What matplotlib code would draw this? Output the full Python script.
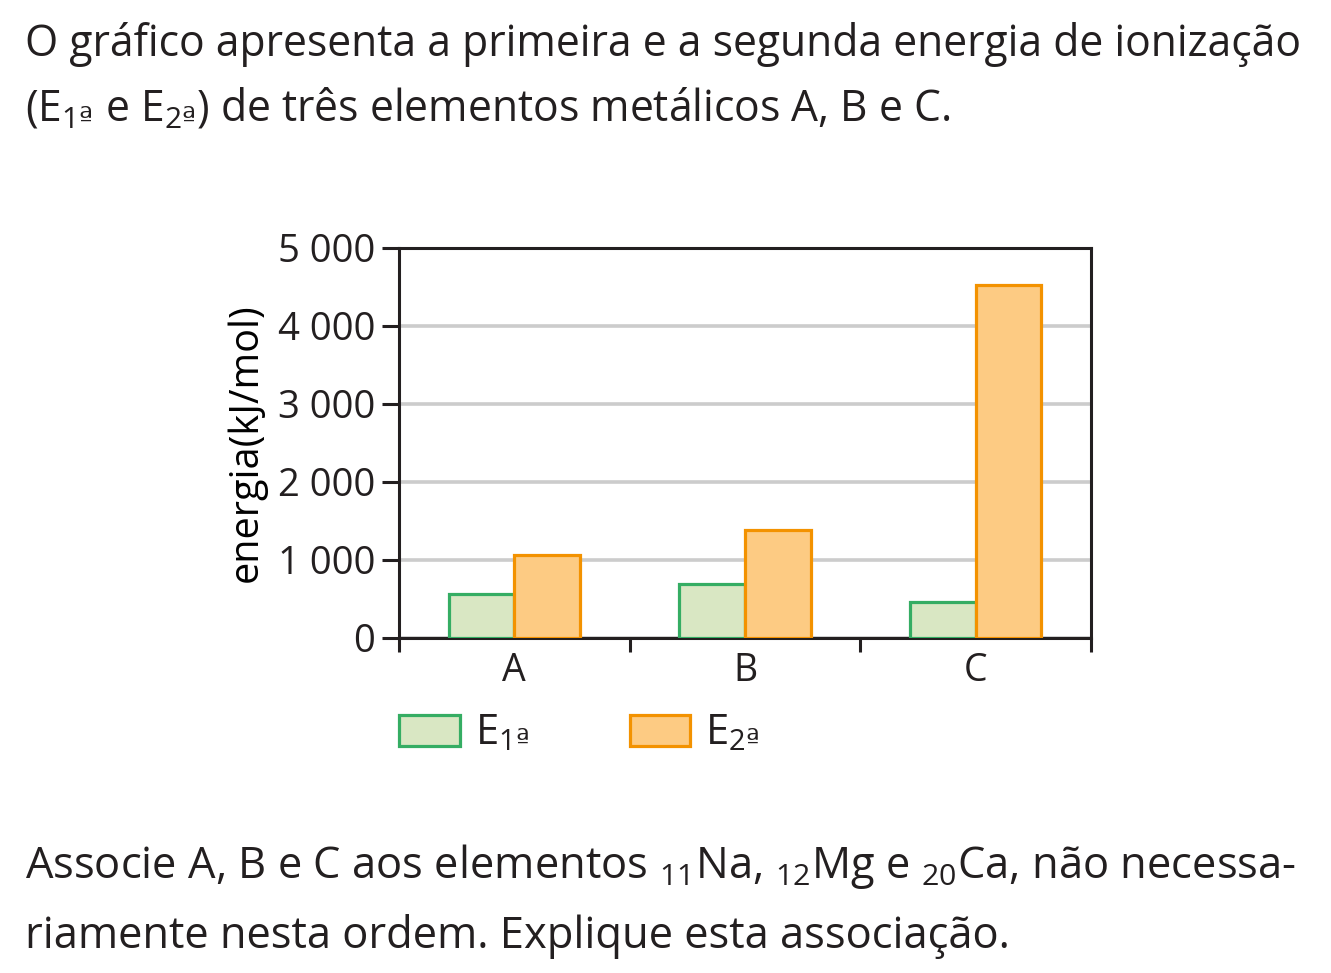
import matplotlib
matplotlib.use('Agg')
import matplotlib.pyplot as plt
import numpy as np
from matplotlib.ticker import FuncFormatter, FixedLocator

# Energias de ionização (kJ/mol)
elementos = ['A', 'B', 'C']
e1 = [560, 690, 460]
e2 = [1060, 1380, 4520]
y_ticks = [0, 1000, 2000, 3000, 4000, 5000]

texto_cor = '#231f20'
verde_borda, verde_fundo = '#35ad63', '#d9e7c3'
laranja_borda, laranja_fundo = '#f39200', '#fdcb83'

plt.rcParams['font.family'] = ['Open Sans', 'DejaVu Sans']
plt.rcParams['mathtext.fontset'] = 'custom'
plt.rcParams['mathtext.rm'] = 'Open Sans'
plt.rcParams['mathtext.it'] = 'Open Sans'
plt.rcParams['mathtext.sf'] = 'DejaVu Sans'  # ª sublinhado
plt.rcParams['text.color'] = texto_cor

fig = plt.figure(figsize=(13.31, 9.73), dpi=100)
W, H = 1331, 973

# enunciado
fs_txt = 30.7
fig.text(25 / W, 1 - 56 / H, 'O gráfico apresenta a primeira e a segunda energia de ionização',
         fontsize=fs_txt, va='baseline')
fig.text(25 / W, 1 - 120 / H,
         r'(E$_{\mathrm{1}\mathsf{ª}}$ e E$_{\mathrm{2}\mathsf{ª}}$) de três elementos metálicos A, B e C.',
         fontsize=fs_txt, va='baseline')
fig.text(25 / W, 1 - 878 / H,
         r'Associe A, B e C aos elementos $_{\mathrm{11}}$Na, $_{\mathrm{12}}$Mg e $_{\mathrm{20}}$Ca, não necessa-',
         fontsize=31.3, va='baseline')
fig.text(25 / W, 1 - 948 / H, 'riamente nesta ordem. Explique esta associação.',
         fontsize=31.3, va='baseline')

ax = fig.add_axes([399 / W, 1 - 638 / H, 692 / W, 390 / H])

x = np.arange(len(elementos))
w = 0.285
ax.bar(x - w / 2, e1, w, color=verde_fundo, edgecolor=verde_borda, linewidth=2.3,
       label=r'E$_{\mathrm{1}\mathsf{ª}}$', zorder=3)
ax.bar(x + w / 2, e2, w, color=laranja_fundo, edgecolor=laranja_borda, linewidth=2.3,
       label=r'E$_{\mathrm{2}\mathsf{ª}}$', zorder=3)

ax.set_xlim(-0.5, len(elementos) - 0.5)
ax.set_ylim(0, 5000)
ax.set_yticks(y_ticks)
ax.yaxis.set_major_formatter(FuncFormatter(lambda v, p: f'{int(v):,}'.replace(',', ' ')))
ax.set_xticks(x)
ax.set_xticklabels(elementos)
ax.xaxis.set_minor_locator(FixedLocator(np.arange(-0.5, len(elementos), 1.0)))
ax.tick_params(axis='x', which='major', length=0, labelsize=27, pad=10, labelcolor=texto_cor)
ax.tick_params(axis='x', which='minor', length=10, width=2.2, color=texto_cor)
ax.tick_params(axis='y', length=12, width=2.2, labelsize=27.5, pad=5, color=texto_cor,
               labelcolor=texto_cor)

for s in ax.spines.values():
    s.set_linewidth(2.2)
    s.set_color(texto_cor)

ax.yaxis.grid(True, color='#cccccc', linewidth=2.6, zorder=0)
ax.set_axisbelow(True)
ax.set_ylabel('energia(kJ/mol)', fontsize=28.5, labelpad=8)

ax.legend(loc='center left', bbox_to_anchor=(0.0, -0.245), ncol=2, frameon=False,
          fontsize=30, handlelength=1.46, handleheight=0.77, columnspacing=2.42,
          handletextpad=0.36, borderaxespad=0, borderpad=0)

fig.savefig('out.png', dpi=100)
